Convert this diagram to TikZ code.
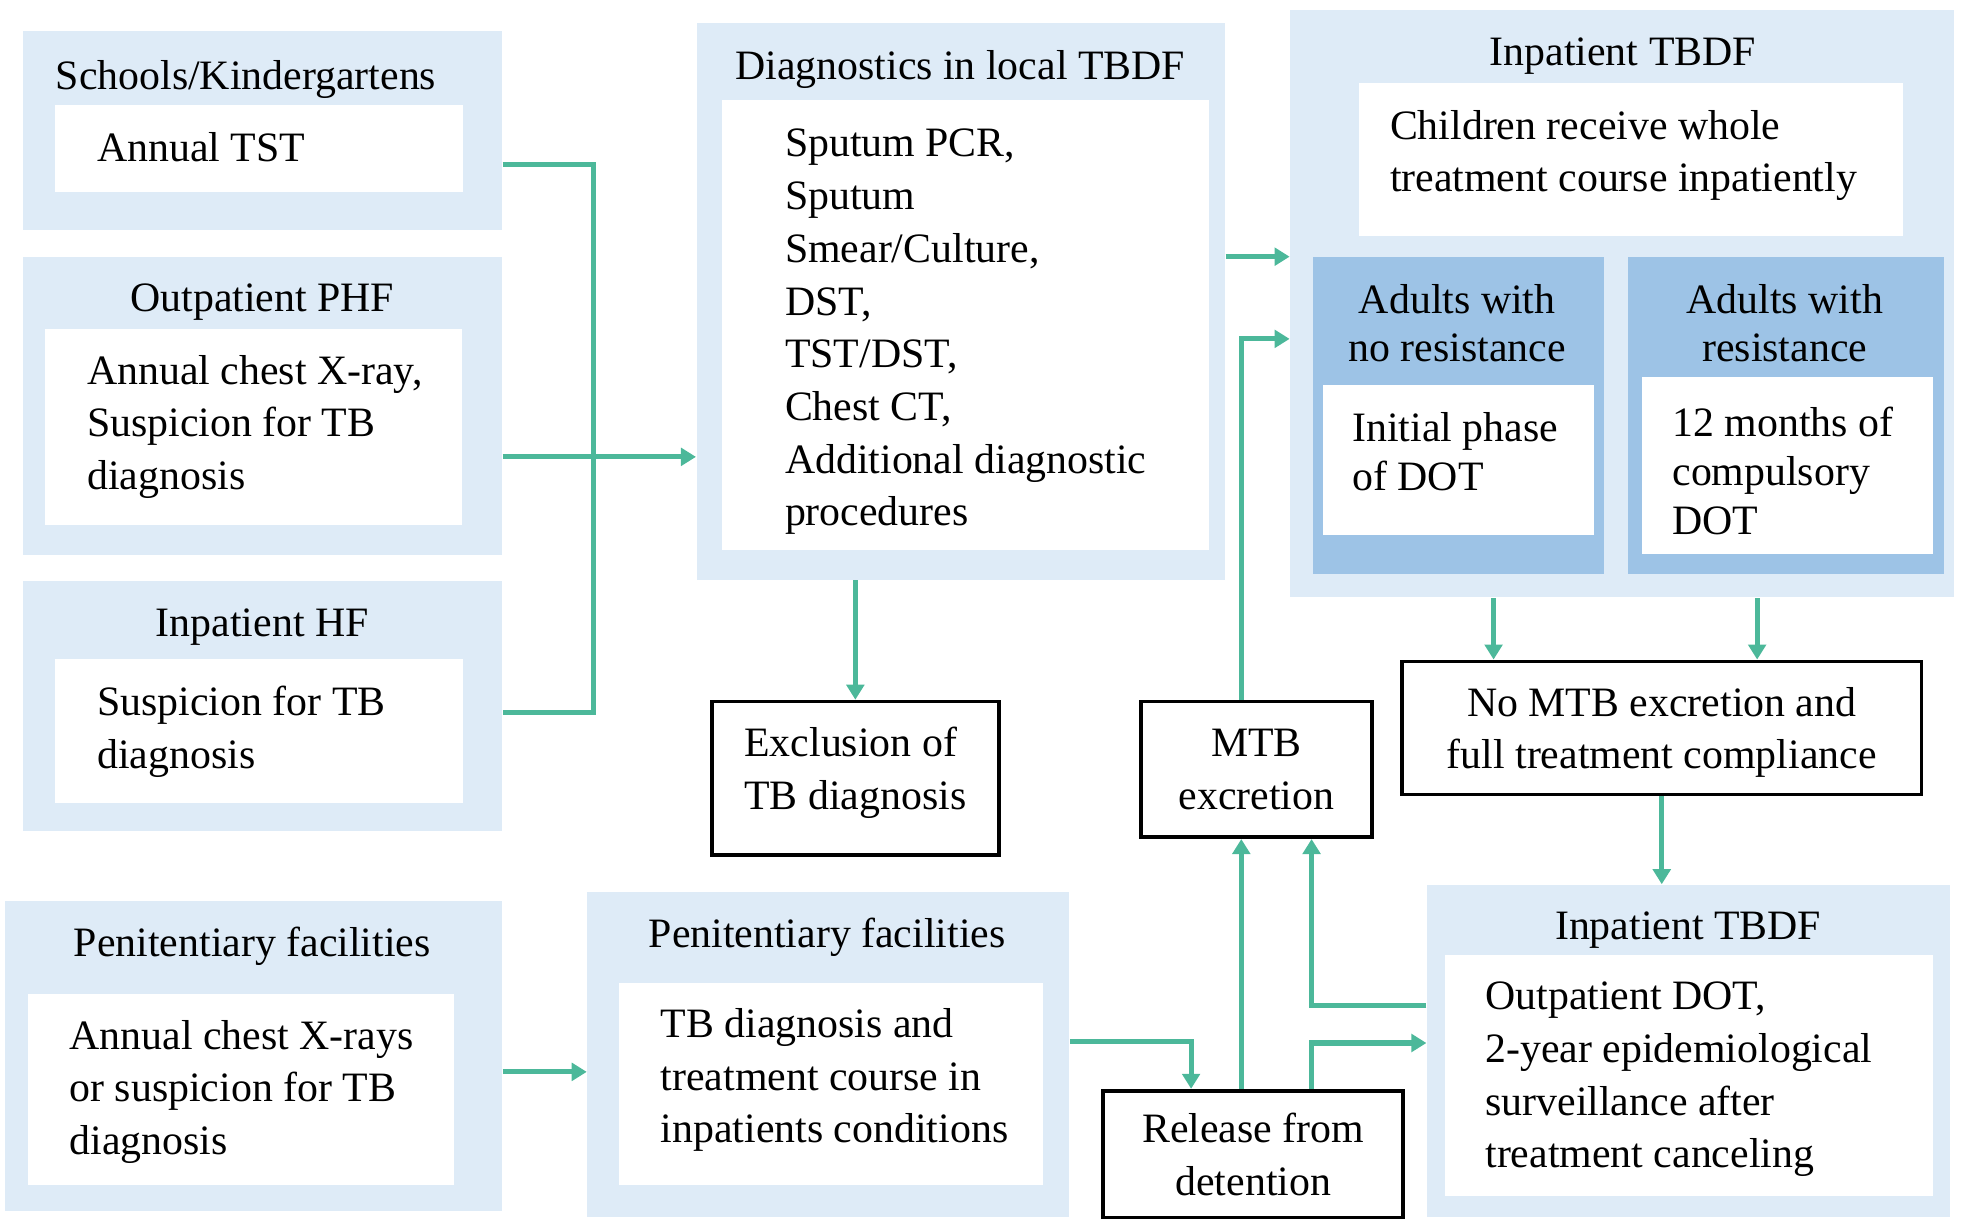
\documentclass[tikz,border=0pt]{standalone}
\usepackage{fontspec}
\setmainfont{Liberation Serif}
\usetikzlibrary{arrows.meta}

\definecolor{paleblue}{RGB}{222,235,247}
\definecolor{midblue}{RGB}{157,195,230}
\definecolor{flowgreen}{RGB}{76,184,154}

\tikzset{every picture/.style={line width=0.75pt}}
\tikzset{
  txt/.style={font=\fontsize{25}{31.5}\selectfont, inner sep=0pt},
  tighttxt/.style={font=\fontsize{25}{29.25}\selectfont, inner sep=0pt},
  boxsize/.style 2 args={minimum width=#1, minimum height=#2},
  panel/.style={fill=paleblue, inner sep=0pt},
  subpanel/.style={fill=midblue, inner sep=0pt},
  card/.style={fill=white, inner sep=0pt},
  outcome/.style={draw=black, line width=2.25pt, fill=white, txt, align=center},
  bus/.style={draw=flowgreen, line width=3pt},
  flow/.style={bus, -{Triangle[length=9pt,width=10.5pt]}},
}

\begin{document}
\begin{tikzpicture}[x=0.75pt,y=0.75pt,yscale=-1,xscale=1]
\useasboundingbox (0,0) rectangle (1568,972);

% Panels
\node[panel, boxsize={286.5pt}{118.5pt}] (schools) at (209,104) {};
\node[panel, boxsize={286.5pt}{177.75pt}] (phf) at (209,323.5) {};
\node[panel, boxsize={286.5pt}{149.25pt}] (hf) at (209,562.5) {};
\node[panel, boxsize={297pt}{185.25pt}] (penL) at (202,841.5) {};
\node[panel, boxsize={315.75pt}{333pt}] (diag) at (765.5,240) {};
\node[panel, boxsize={288pt}{194.25pt}] (penM) at (660,840.5) {};
\node[panel, boxsize={396.75pt}{351pt}] (tbdfTop) at (1292.5,242) {};
\node[panel, boxsize={312.75pt}{198.75pt}] (tbdfBot) at (1345.5,837.5) {};
\node[subpanel, boxsize={174pt}{189pt}] (adultsNo) at (1162,331) {};
\node[subpanel, boxsize={189pt}{189pt}] (adultsRes) at (1423,331) {};

% Cards
\node[card, boxsize={243.75pt}{51.75pt}] (schoolsCard) at (206.5,118.5) {};
\node[card, boxsize={249pt}{117pt}] (phfCard) at (202,340) {};
\node[card, boxsize={243.75pt}{86.25pt}] (hfCard) at (206.5,582.5) {};
\node[card, boxsize={255pt}{114pt}] (penLCard) at (192,868) {};
\node[card, boxsize={291pt}{268.5pt}] (diagCard) at (769,259) {};
\node[card, boxsize={253.5pt}{120.75pt}] (penMCard) at (662,863.5) {};
\node[card, boxsize={324.75pt}{91.5pt}] (childCard) at (1299.5,127) {};
\node[card, boxsize={162pt}{89.25pt}] (noResCard) at (1162,366.5) {};
\node[card, boxsize={174pt}{105.75pt}] (resCard) at (1424,370.5) {};
\node[card, boxsize={291.75pt}{144pt}] (outCard) at (1345.5,857) {};

% Text Node
\node[txt] (schoolsTitle) at (196,63) {Schools/Kindergartens};
\node[txt] (phfTitle) at (209,241) {Outpatient PHF};
\node[txt] (hfTitle) at (209,500) {Inpatient HF};
\node[txt] (penLTitle) at (201,754) {Penitentiary facilities};
\node[txt] (diagTitle) at (765,55) {Diagnostics in local TBDF};
\node[txt] (penMTitle) at (659,747) {Penitentiary facilities};
\node[txt] (tbdfTopTitle) at (1293,45) {Inpatient TBDF};
\node[txt] (tbdfBotTitle) at (1345,741) {Inpatient TBDF};
\node[tighttxt, align=center] (adultsNoTitle) at (1161,257.5) {Adults with\\no resistance};
\node[tighttxt, align=center] (adultsResTitle) at (1422,257.5) {Adults with\\resistance};

% Text Node
\node[txt, anchor=west] (schoolsText) at (77,117) {Annual TST};
\node[txt, anchor=west, align=left] (phfText) at (69,340) {Annual chest X-ray,\\Suspicion for TB\\diagnosis};
\node[txt, anchor=west, align=left] (hfText) at (77,583) {Suspicion for TB\\diagnosis};
\node[txt, anchor=west, align=left] (penLText) at (55,870) {Annual chest X-rays\\or suspicion for TB\\diagnosis};
\node[txt, anchor=west, align=left] (diagText) at (625,264.5) {Sputum PCR,\\Sputum\\Smear/Culture,\\DST,\\TST/DST,\\Chest CT,\\Additional diagnostic\\procedures};
\node[txt, anchor=west, align=left] (penMText) at (526,860.5) {TB diagnosis and\\treatment course in\\inpatients conditions};
\node[txt, anchor=west, align=left] (childText) at (1107,124) {Children receive whole\\treatment course inpatiently};
\node[tighttxt, anchor=west, align=left] (noResText) at (1077,359.5) {Initial phase\\of DOT};
\node[tighttxt, anchor=west, align=left] (resText) at (1332,375) {12 months of\\compulsory\\DOT};
\node[txt, anchor=west, align=left] (outText) at (1183,860) {Outpatient DOT,\\2-year epidemiological\\surveillance after\\treatment canceling};

% Outcomes
\node[outcome, align=left, text depth=11.5pt, boxsize={171.75pt}{91.5pt}] (excl) at (681.5,620) {Exclusion of\\TB diagnosis};
\node[outcome, boxsize={138pt}{81pt}] (mtb) at (1001,613) {MTB\\excretion};
\node[outcome, text depth=-2.1pt, boxsize={310.5pt}{79.5pt}] (noMtb) at (1324,580) {No MTB excretion and\\full treatment compliance};
\node[outcome, text depth=-6pt, boxsize={179.25pt}{75.75pt}] (release) at (998.5,919.5) {Release from\\detention};

% Connection
\coordinate (busTop) at (473,131);
\coordinate (busBot) at (473,568);
\coordinate (busMid) at (473,364);
\draw[bus] (schools.east |- busTop) -- (busTop) -- (busBot) -- (hf.east |- busBot);
\draw[flow] (phf.east |- busMid) -- (diag.west |- busMid);
% Connection
\draw[flow] (diag.east |- adultsNo.north) -- (tbdfTop.west |- adultsNo.north);
\draw[flow] (diag.south -| excl.north) -- (excl.north);
% Connection
\coordinate (upTurn) at (989,270);
\draw[flow] (mtb.north -| upTurn) -- (upTurn) -- (tbdfTop.west |- upTurn);
\draw[flow] (release.north -| upTurn) -- (mtb.south -| upTurn);
% Connection
\coordinate (dropA) at (1190,500);
\coordinate (dropB) at (1400,500);
\draw[flow] (tbdfTop.south -| dropA) -- (noMtb.north -| dropA);
\draw[flow] (tbdfTop.south -| dropB) -- (noMtb.north -| dropB);
\draw[flow] (noMtb.south) -- (tbdfBot.north -| noMtb.south);
% Connection
\coordinate (penTurn) at (434,854);
\draw[flow] (penL.east |- penTurn) -- (penM.west |- penTurn);
\coordinate (relTurn) at (949,830);
\draw[flow] (penM.east |- relTurn) -- (relTurn) -- (release.north -| relTurn);
% Connection
\coordinate (backTurn) at (1045,801);
\draw[flow] (tbdfBot.west |- backTurn) -- (backTurn) -- (mtb.south -| backTurn);
\coordinate (outTurn) at (1045,831);
\draw[flow] (release.north -| outTurn) -- (outTurn) -- (tbdfBot.west |- outTurn);

\end{tikzpicture}
\end{document}
